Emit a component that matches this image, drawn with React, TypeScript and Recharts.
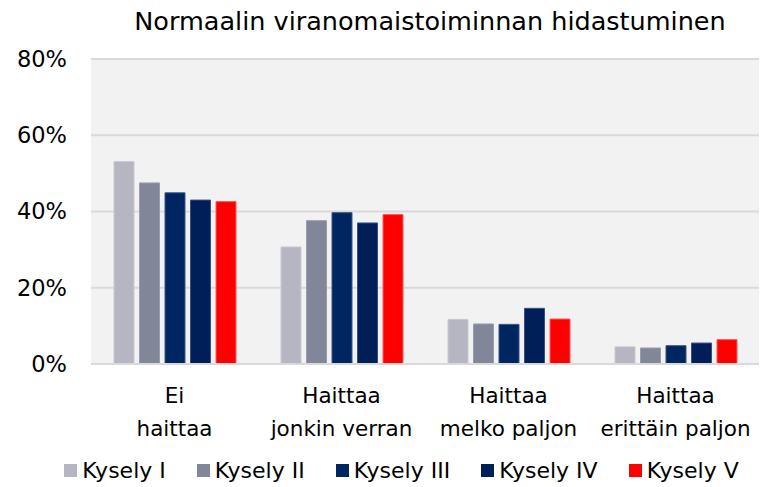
import React from 'react';
import { BarChart, Bar, XAxis, YAxis, CartesianGrid, Legend } from 'recharts';

const categories = ['Ei\nhaittaa', 'Haittaa\njonkin verran', 'Haittaa\nmelko paljon', 'Haittaa\nerittäin paljon'];
const seriesNames = ['Kysely I', 'Kysely II', 'Kysely III', 'Kysely IV', 'Kysely V'];
const kysely1 = [53.1, 30.7, 11.7, 4.5];
const kysely2 = [47.5, 37.6, 10.5, 4.2];
const kysely3 = [44.9, 39.7, 10.4, 4.8];
const kysely4 = [43.0, 37.0, 14.6, 5.5];
const kysely5 = [42.6, 39.2, 11.8, 6.4];
const yTicks = [0, 20, 40, 60, 80];
const title = 'Normaalin viranomaistoiminnan hidastuminen';

const colors = ['#B6B6C3', '#828699', '#002662', '#001F58', '#FF0000'];
const strokes = ['#C9C9D3', '#9A9DAD', '#3A5588', '#3A5080', '#FF5A5A'];
const keys = ['k1', 'k2', 'k3', 'k4', 'k5'];
const seriesValues = [kysely1, kysely2, kysely3, kysely4, kysely5];

const data = categories.map((c, i) => {
  const row: Record<string, any> = { name: c };
  keys.forEach((k, j) => {
    row[k] = seriesValues[j][i];
  });
  return row;
});

const FONT = '"DejaVu Sans", sans-serif';

const CatTick = (props: any) => {
  const { x, y, payload } = props;
  const lines = String(payload.value).split('\n');
  return (
    <g>
      <text x={x} y={y + 39} textAnchor="middle" fontFamily={FONT} fontSize={21.5} fill="#000">
        {lines[0]}
      </text>
      <text x={x} y={y + 72} textAnchor="middle" fontFamily={FONT} fontSize={21.5} fill="#000">
        {lines[1]}
      </text>
    </g>
  );
};

const LegendContent = () => (
  <div
    style={{
      height: 34,
      display: 'flex',
      justifyContent: 'center',
      alignItems: 'center',
      gap: 31,
      fontFamily: FONT,
      fontSize: 22,
      color: '#000',
      paddingLeft: 44,
    }}
  >
    {seriesNames.map((n, i) => (
      <div key={n} style={{ display: 'flex', alignItems: 'center' }}>
        <span style={{ display: 'inline-block', width: 13, height: 13, background: colors[i], marginRight: 5 }} />
        <span>{n}</span>
      </div>
    ))}
  </div>
);

export default function App() {
  return (
    <div style={{ position: 'absolute', left: 0, top: 0, width: 760, height: 487, background: '#fff' }}>
      <div
        style={{
          position: 'absolute',
          left: 50,
          top: 8,
          width: 760,
          textAlign: 'center',
          fontFamily: FONT,
          fontSize: 25.5,
          lineHeight: '26px',
          color: '#000',
          whiteSpace: 'nowrap',
        }}
      >
        {title}
      </div>
      <BarChart
        width={760}
        height={487}
        data={data}
        margin={{ top: 59, right: 1, bottom: 0, left: 0 }}
        barSize={20}
        barGap={5.5}
      >
        <CartesianGrid vertical={false} stroke="#D9D9D9" strokeWidth={2} fill="#F2F2F2" />
        <XAxis
          dataKey="name"
          tickLine={false}
          axisLine={{ stroke: '#D9D9D9', strokeWidth: 2 }}
          height={89}
          tick={<CatTick />}
          tickSize={0}
          tickMargin={0}
          interval={0}
        />
        <YAxis
          domain={[0, 80]}
          ticks={yTicks}
          tickFormatter={(v: number) => `${v}%`}
          width={91}
          tickLine={false}
          axisLine={false}
          tickSize={0}
          tickMargin={24}
          tick={{ fontFamily: FONT, fontSize: 22.5, fill: '#000' }}
        />
        <Legend verticalAlign="bottom" height={34} content={<LegendContent />} />
        {keys.map((k, j) => (
          <Bar
            key={k}
            dataKey={k}
            name={seriesNames[j]}
            fill={colors[j]}
            stroke={strokes[j]}
            strokeWidth={1}
            isAnimationActive={false}
          />
        ))}
      </BarChart>
    </div>
  );
}
